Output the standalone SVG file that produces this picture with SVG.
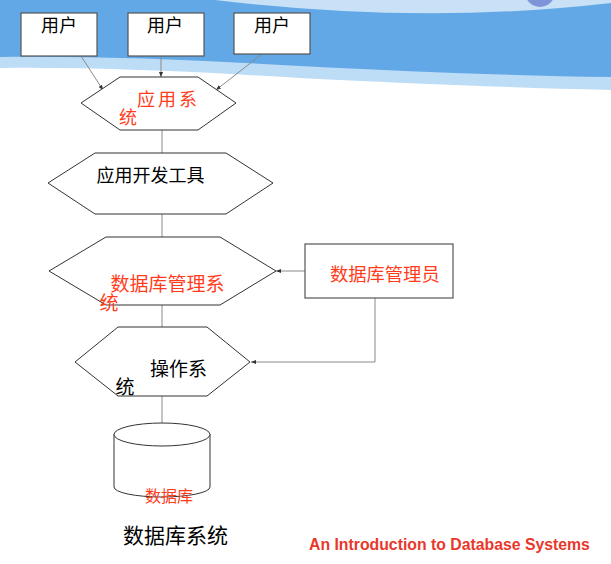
<svg xmlns="http://www.w3.org/2000/svg" width="611" height="564" viewBox="0 0 611 564">
<defs>
<style>
.bg-blue{fill:#62a8e6}
.bg-light{fill:#bddcf6}
.box{fill:#ffffff;stroke:#555555;stroke-width:1.2}
.hex{fill:#ffffff;stroke:#333333;stroke-width:1}
.cyl{fill:#ffffff;stroke:#333333;stroke-width:1}
.conn{fill:none;stroke:#8a8a8a;stroke-width:1}
.t{font-family:"Liberation Sans","Noto Sans CJK SC",sans-serif}
.blk{fill:#000000}
.red{fill:#ff3d1c}
</style>
<marker id="arr" markerWidth="5" markerHeight="5" refX="5" refY="2.5" orient="auto" markerUnits="userSpaceOnUse">
<path d="M0,0.5 L5,2.5 L0,4.5 z" fill="#333333"/>
</marker>
</defs>
<rect x="0" y="0" width="611" height="564" fill="#ffffff"/>
<g id="background">
<path class="bg-light" d="M0,0 L611,0 L611,90 C520,88 420,84 300,78 C200,72 100,67 0,68 Z"/>
<path class="bg-blue" d="M0,0 L611,0 L611,77 C520,76 420,72 300,66 C200,60 100,56 0,57 Z"/>
<path d="M215,0 Q420,25 611,3 L611,0 Z" fill="#c9e1f6"/>
<circle cx="540" cy="-8" r="15" fill="#7f93d9"/>
</g>
<g id="connectors">
<line class="conn" x1="81" y1="56" x2="103" y2="90" marker-end="url(#arr)"/>
<line class="conn" x1="161" y1="56" x2="161" y2="77" marker-end="url(#arr)"/>
<line class="conn" x1="262" y1="54" x2="216" y2="90" marker-end="url(#arr)"/>
<line class="conn" x1="162" y1="130" x2="162" y2="153"/>
<line class="conn" x1="162" y1="214" x2="162" y2="237"/>
<line class="conn" x1="162" y1="305" x2="162" y2="327"/>
<line class="conn" x1="162" y1="396" x2="162" y2="423"/>
<line class="conn" x1="305" y1="271" x2="276" y2="271" marker-end="url(#arr)"/>
<polyline class="conn" points="375,298 375,362 251,362" marker-end="url(#arr)"/>
</g>
<g id="user1">
<rect class="box" x="21" y="13" width="76" height="43"/>
<text class="t blk" x="41" y="32" font-size="18">用户</text>
</g>
<g id="user2">
<rect class="box" x="128" y="13" width="76" height="43"/>
<text class="t blk" x="147" y="32" font-size="18">用户</text>
</g>
<g id="user3">
<rect class="box" x="234" y="13" width="76" height="41"/>
<text class="t blk" x="254" y="32" font-size="18">用户</text>
</g>
<g id="app-system">
<polygon class="hex" points="81,103 120,77 198,77 236,103 198,130 120,130"/>
<text class="t red" x="137" y="105.5" font-size="18" letter-spacing="3">应用系</text>
<text class="t red" x="119" y="123.5" font-size="18">统</text>
</g>
<g id="dev-tools">
<polygon class="hex" points="48,183 95,153 226,153 273,183 226,214 95,214"/>
<text class="t blk" x="96.5" y="181.5" font-size="18">应用开发工具</text>
</g>
<g id="dbms">
<polygon class="hex" points="49,271 106,237 220,237 276,271 220,305 106,305"/>
<text class="t red" x="110.5" y="291" font-size="19">数据库管理系</text>
<text class="t red" x="99.5" y="309.5" font-size="19">统</text>
</g>
<g id="dba">
<rect class="box" x="305" y="244" width="148" height="54"/>
<text class="t red" x="330" y="280.5" font-size="18.3">数据库管理员</text>
</g>
<g id="os">
<polygon class="hex" points="75,362 118,327 207,327 250,362 207,396 118,396"/>
<text class="t blk" x="150" y="376" font-size="19">操作系</text>
<text class="t blk" x="115.5" y="394" font-size="19">统</text>
</g>
<g id="database">
<path class="cyl" d="M114,434 L114,487 A48,10 0 0 0 210,487 L210,434"/>
<ellipse class="cyl" cx="162" cy="434.5" rx="48" ry="11.5"/>
<text class="t red" x="145" y="501.5" font-size="16">数据库</text>
</g>
<g id="captions">
<text class="t blk" x="123" y="542.5" font-size="21">数据库系统</text>
<text x="309" y="550" font-family="'Liberation Sans',Arial,sans-serif" font-size="15.8" font-weight="bold" fill="#e8382c">An Introduction to Database Systems</text>
</g>
</svg>
